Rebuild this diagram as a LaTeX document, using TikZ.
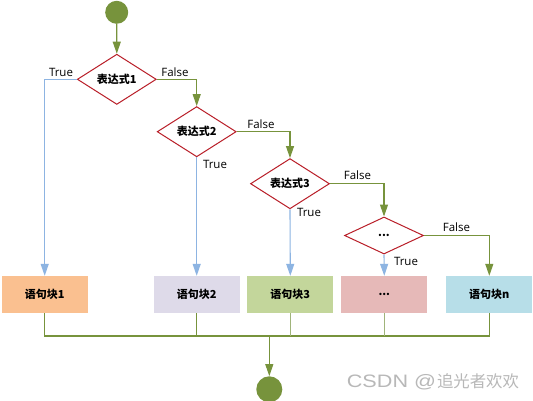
\documentclass[tikz,border=0pt]{standalone}
\usepackage{graphicx}
\usepackage{fontspec}
\setmainfont{Open Sans}
\newfontfamily\cjk{Noto Sans CJK SC}
\newfontfamily\wmlat{Liberation Sans}
\usetikzlibrary{shapes.geometric,arrows.meta}
\definecolor{olive}{RGB}{119,147,60}
\definecolor{olivelight}{RGB}{160,180,122}
\definecolor{lblue}{RGB}{141,180,226}
\definecolor{dred}{RGB}{185,30,40}
\definecolor{cOrange}{RGB}{250,192,144}
\definecolor{cLav}{RGB}{222,218,233}
\definecolor{cGreen}{RGB}{195,214,155}
\definecolor{cPink}{RGB}{230,185,184}
\definecolor{cBlue}{RGB}{183,222,232}
\tikzset{
  cond/.style={diamond, draw=dred, line width=1pt, fill=white, minimum width=79pt, minimum height=37pt, inner sep=0pt, font=\cjk\bfseries\fontsize{11}{11}\selectfont},
  blk/.style={rectangle, draw=none, minimum width=86pt, minimum height=37pt, inner sep=0pt, font=\cjk\bfseries\fontsize{11}{11}\selectfont},
  dot/.style={circle, fill=olive, draw=none, inner sep=0pt},
  gline/.style={draw=olive, line width=1.1pt},
  gline2/.style={draw=olivelight, line width=1.1pt},
  garrow/.style={gline, -{Triangle[width=8pt,length=12pt]}},
  barrow/.style={draw=lblue, line width=1.1pt, -{Triangle[width=8pt,length=12pt]}},
  lbl/.style={font=\fontsize{11.5}{11.5}\selectfont, inner sep=0pt}
}
\begin{document}
\begin{tikzpicture}[x=1pt,y=-1pt]
\useasboundingbox (0,0) rectangle (533,400);
\fill[white] (0,0) rectangle (533,400);
% start and end
\node[dot, minimum size=23pt] (start) at (116.7,12.3) {};
\node[dot, minimum size=26pt] (end) at (269.3,389.3) {};
% conditions
\node[cond] (d1) at (116.8,79.3) {表达式1};
\node[cond] (d2) at (196.7,131.7) {表达式2};
\node[cond] (d3) at (290,183.7) {表达式3};
\node[cond] (d4) at (384,235.5) {...};
% blocks
\node[blk, fill=cOrange] (b1) at (44.7,294.5) {语句块1};
\node[blk, fill=cLav] (b2) at (196.7,294.5) {语句块2};
\node[blk, fill=cGreen] (b3) at (290.3,294.5) {语句块3};
\node[blk, fill=cPink] (b4) at (384.3,294.5) {...};
\node[blk, fill=cBlue] (bn) at (489.3,294.5) {语句块n};
% labels
\node[lbl] (t1) at (61,72) {True};
\node[lbl] (f1) at (175,72) {False};
\node[lbl] (t2) at (215,164) {True};
\node[lbl] (f2) at (261,124) {False};
\node[lbl] (t3) at (309,212.5) {True};
\node[lbl] (f3) at (357.5,175.5) {False};
\node[lbl] (t4) at (406,261) {True};
\node[lbl] (f4) at (456.5,227.5) {False};
% connectors
\draw[garrow] (start) -- (d1.north);
\draw[barrow] (d1.west) -| (b1.north);
\draw[garrow] (d1.east) -| (d2.north);
\draw[barrow] (d2.south) -- (b2.north);
\draw[garrow] (d2.east) -| (d3.north);
\draw[barrow] (d3.south) -- (b3.north);
\draw[garrow] (d3.east) -| (d4.north);
\draw[barrow] (d4.south) -- (b4.north);
\draw[garrow] (d4.east) -| (bn.north);
% merge
\coordinate (m) at (269.3,336);
\draw[gline] (b1.south) -- (b1.south |- m) -- (bn.south |- m) -- (bn.south);
\draw[gline] (b2.south) -- (b2.south |- m);
\draw[gline2] (b3.south) -- (b3.south |- m);
\draw[gline2] (b4.south) -- (b4.south |- m);
\draw[garrow] (m) -- (end.north);
% watermark
\node[text=black!28, inner sep=0pt, anchor=base west] (wm) at (346.7,387) {\scalebox{1.2}[1]{\wmlat\fontsize{18}{18}\selectfont CSDN @}\hspace{1pt}\cjk\fontsize{16.4}{16.4}\selectfont 追光者欢欢};
\end{tikzpicture}
\end{document}
